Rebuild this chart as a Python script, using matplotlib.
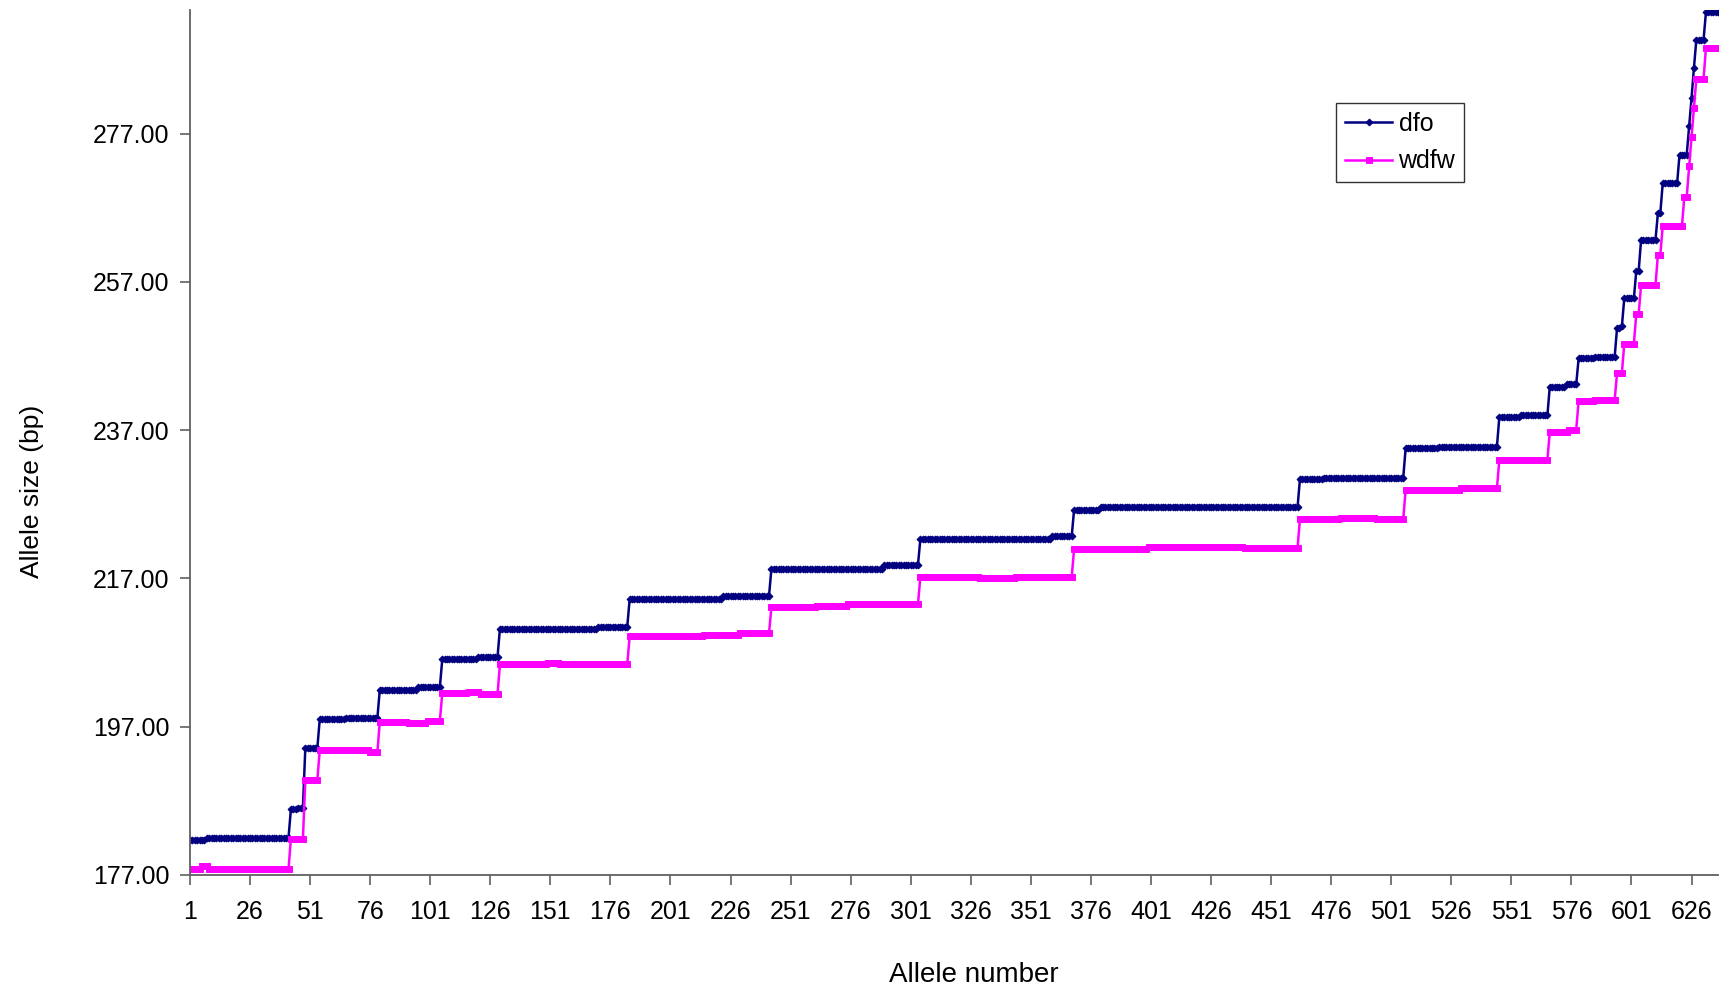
import numpy as np
import matplotlib.pyplot as plt
from matplotlib.ticker import FormatStrFormatter

plt.rcParams["font.family"] = ["Liberation Sans", "DejaVu Sans"]

n_alleles = 637

# sorted allele sizes, stored as runs: first allele number of each run and its size (bp)
dfo_start = [1, 8, 43, 46, 49, 55, 66, 80, 96, 106,
             121, 130, 171, 184, 223, 243, 290, 305, 360, 369,
             380, 463, 473, 507, 521, 546, 555, 567, 574, 579,
             586, 595, 597, 598, 603, 605, 612, 614, 621, 625,
             626, 627, 628, 632]
dfo_size = [181.7, 182.0, 185.9, 186.1, 194.1, 198.0, 198.2, 202.0, 202.3, 206.1,
            206.4, 210.2, 210.5, 214.2, 214.6, 218.3, 218.8, 222.3, 222.7, 226.3,
            226.6, 230.4, 230.6, 234.6, 234.8, 238.8, 239.0, 242.9, 243.2, 246.7,
            246.9, 250.8, 251.0, 254.8, 258.5, 262.7, 266.3, 270.3, 274.2, 278.0,
            281.8, 285.9, 289.7, 293.4]

wdfw_start = [1, 6, 9, 43, 49, 55, 70, 76, 80, 92,
              100, 106, 117, 122, 130, 150, 155, 184, 215, 230,
              243, 262, 275, 305, 330, 345, 369, 400, 440, 463,
              480, 495, 507, 530, 546, 567, 575, 579, 586, 595,
              598, 603, 605, 612, 614, 623, 625, 626, 627, 628,
              632]
wdfw_size = [177.8, 178.2, 177.8, 181.9, 189.8, 193.8, 193.9, 193.6, 197.7, 197.5,
             197.8, 201.5, 201.7, 201.4, 205.4, 205.6, 205.4, 209.2, 209.4, 209.6,
             213.1, 213.3, 213.5, 217.2, 217.0, 217.2, 221.0, 221.2, 221.1, 225.0,
             225.2, 225.0, 229.0, 229.2, 233.0, 236.8, 237.1, 240.9, 241.1, 244.7,
             248.7, 252.7, 256.6, 260.7, 264.5, 268.5, 272.6, 276.6, 280.5, 284.4,
             288.6]


def expand(starts, sizes):
    lengths = np.diff(starts + [n_alleles + 1])
    return np.repeat(sizes, lengths)


allele = np.arange(1, n_alleles + 1)
dfo = expand(dfo_start, dfo_size)
wdfw = expand(wdfw_start, wdfw_size)

fig = plt.figure(figsize=(17.32, 9.96), dpi=100)
ax = fig.add_axes([0.1097, 0.1215, 0.8822, 0.8685])

ax.plot(allele, dfo, color="#000080", lw=1.8, marker="D", ms=3.5,
        markeredgewidth=0.7, label="dfo")
ax.plot(allele, wdfw, color="#FF00FF", lw=1.8, marker="s", ms=4.8,
        markeredgewidth=0.7, label="wdfw")

ax.set_xlim(1, n_alleles)
ax.set_ylim(177, 293.7)
ax.set_xticks(np.arange(1, 627, 25))
ax.set_yticks(np.arange(177, 278, 20))
ax.yaxis.set_major_formatter(FormatStrFormatter("%.2f"))

for side in ["top", "right"]:
    ax.spines[side].set_visible(False)
for side in ["left", "bottom"]:
    ax.spines[side].set_color("#606060")
    ax.spines[side].set_linewidth(1.3)
ax.tick_params(axis="both", colors="#606060", labelcolor="black",
               labelsize=18, length=7, width=1.2, direction="out")
ax.tick_params(axis="x", pad=11)
ax.tick_params(axis="y", pad=8)

ax.set_xlabel("Allele number", fontsize=20, va="center")
ax.xaxis.set_label_coords(0.513, -0.1156)
ax.set_ylabel("Allele size (bp)", fontsize=19, va="center")
ax.yaxis.set_label_coords(-0.1037, 0.443)

leg = ax.legend(loc="upper left", bbox_to_anchor=(1336 / 1732, 1 - 103 / 996),
                bbox_transform=fig.transFigure, fontsize=18, frameon=True,
                fancybox=False, edgecolor="black", handlelength=1.9,
                handletextpad=0.25, labelspacing=0.55, borderpad=0.35,
                borderaxespad=0)
leg.get_frame().set_linewidth(1.0)

fig.savefig("out.png", dpi=100)
